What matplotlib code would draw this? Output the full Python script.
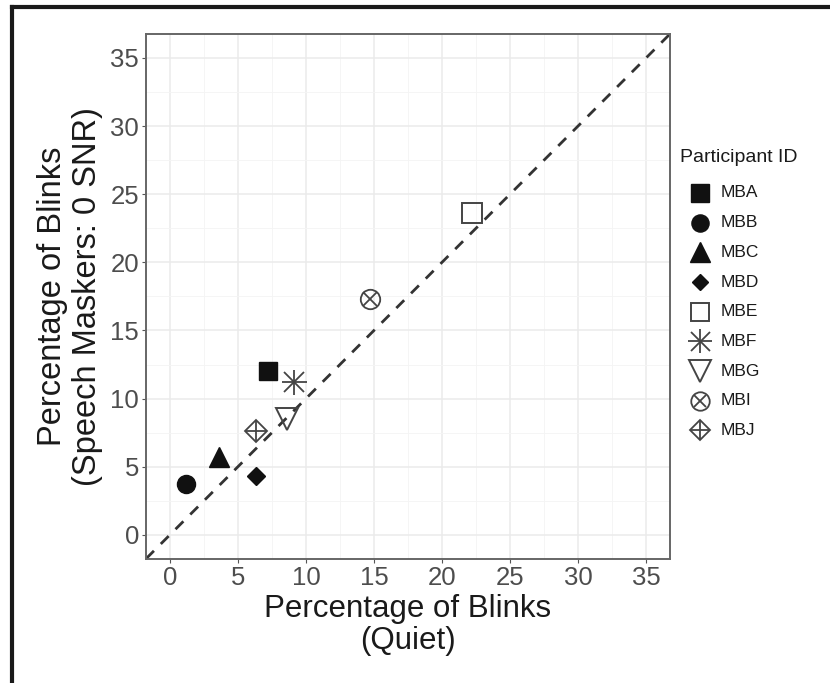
import numpy as np
import matplotlib.pyplot as plt
from matplotlib.lines import Line2D
from matplotlib.ticker import MultipleLocator

plt.rcParams['font.family'] = ['Liberation Sans', 'DejaVu Sans']

participants = ['MBA', 'MBB', 'MBC', 'MBD', 'MBE', 'MBF', 'MBG', 'MBI', 'MBJ']
quiet = [7.2, 1.2, 3.6, 6.3, 22.2, 9.1, 8.6, 14.7, 6.3]
speech = [12.0, 3.75, 5.7, 4.3, 23.6, 11.25, 8.5, 17.3, 7.6]

# marker, filled, size
styles = {
    'MBA': ('s', True, 13),
    'MBB': ('o', True, 13),
    'MBC': ('^', True, 15),
    'MBD': ('D', True, 9),
    'MBE': ('s', False, 14),
    'MBF': ('*asterisk', False, 18),
    'MBG': ('v', False, 16),
    'MBI': ('ox', False, 14),
    'MBJ': ('D+', False, 15),
}


def draw_marker(ax, x, y, key, scale=1.0, **kw):
    m, filled, s = styles[key]
    s = s * scale
    col = '#111111'
    ocol = '#444444'
    if m == '*asterisk':
        for mk in ['+', 'x']:
            ax.plot(x, y, marker=mk, ms=s * (1.0 if mk == '+' else 0.8), mec=ocol, mew=1.3,
                    ls='none', **kw)
    elif m == 'ox':
        ax.plot(x, y, marker='o', ms=s, mfc='none', mec=ocol, mew=1.3, ls='none', **kw)
        ax.plot(x, y, marker='x', ms=s * 0.7, mec=ocol, mew=1.3, ls='none', **kw)
    elif m == 'D+':
        ax.plot(x, y, marker='D', ms=s * 0.75, mfc='none', mec=ocol, mew=1.3, ls='none', **kw)
        ax.plot(x, y, marker='+', ms=s, mec=ocol, mew=1.3, ls='none', **kw)
    elif filled:
        ax.plot(x, y, marker=m, ms=s, mfc=col, mec=col, ls='none', **kw)
    else:
        ax.plot(x, y, marker=m, ms=s, mfc='none', mec=ocol, mew=1.4, ls='none', **kw)


fig = plt.figure(figsize=(8.3, 6.83), dpi=100)
ax = fig.add_axes([0.176, 0.182, 0.631, 0.768])

lo, hi = -1.75, 36.75
ax.set_xlim(lo, hi)
ax.set_ylim(lo, hi)
ax.plot([lo, hi], [lo, hi], ls=(0, (4, 3.5)), color='#333333', lw=2.0, zorder=2)

for i, p in enumerate(participants):
    draw_marker(ax, quiet[i], speech[i], p, zorder=3)

ax.xaxis.set_major_locator(MultipleLocator(5))
ax.yaxis.set_major_locator(MultipleLocator(5))
ax.xaxis.set_minor_locator(MultipleLocator(2.5))
ax.yaxis.set_minor_locator(MultipleLocator(2.5))
ax.grid(which='major', color='#ebebeb', lw=1.1)
ax.grid(which='minor', color='#f4f4f4', lw=0.6)
ax.set_axisbelow(True)
ax.tick_params(which='minor', length=0)
ax.tick_params(which='major', length=3, color='#555555', labelsize=18.5,
               labelcolor='#4d4d4d', pad=2)
for s in ax.spines.values():
    s.set_color('#666666')
    s.set_linewidth(1.4)

ax.set_xlabel('Percentage of Blinks\n(Quiet)', fontsize=22.5, color='#1a1a1a',
              linespacing=1.1, labelpad=3)
ax.set_ylabel('Percentage of Blinks\n(Speech Maskers: 0 SNR)', fontsize=23.5,
              color='#1a1a1a', linespacing=1.2, labelpad=5)

# legend drawn by hand
lax = fig.add_axes([0.815, 0.35, 0.18, 0.42])
lax.set_xlim(0, 1)
lax.set_ylim(0, 1)
lax.axis('off')
lax.text(0.027, 1.0, 'Participant ID', fontsize=14, color='#1a1a1a', va='center',
         transform=lax.transAxes)
for i, p in enumerate(participants):
    y = 0.875 - i * 0.1035
    draw_marker(lax, 0.16, y, p, scale=0.95)
    lax.text(0.295, y, p, fontsize=12.5, color='#1a1a1a', va='center')

# outer frame edge
fig.add_artist(Line2D([0.0145, 0.0145], [0, 0.99], color='#1a1a1a', lw=3,
                      transform=fig.transFigure))
fig.add_artist(Line2D([0.0145, 1.0], [0.99, 0.99], color='#1a1a1a', lw=3,
                      transform=fig.transFigure))

fig.savefig('out.png', dpi=100)
